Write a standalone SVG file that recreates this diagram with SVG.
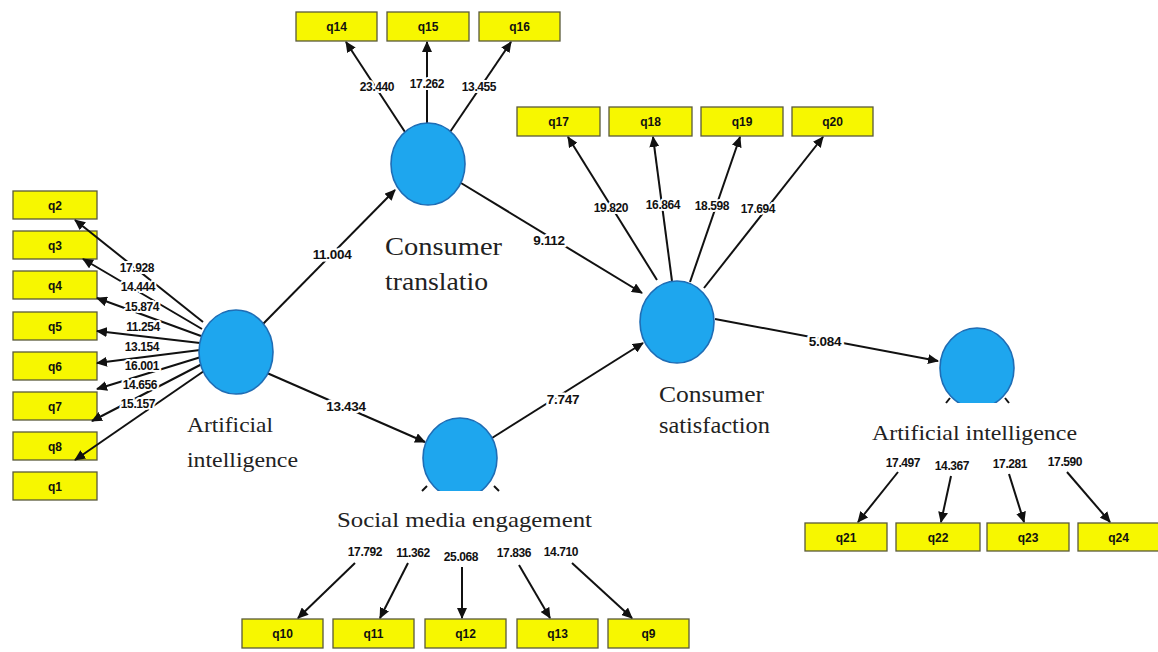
<svg xmlns="http://www.w3.org/2000/svg" width="1158" height="652" viewBox="0 0 1158 652">
<style>
.bg{fill:#ffffff}
.box{fill:#f7f700;stroke:#5a5a3a;stroke-width:1.3}
.bt{font-family:"Liberation Sans",Arial,sans-serif;font-weight:bold;font-size:12px;fill:#111;text-anchor:middle}
.lv{fill:#1ea6ee;stroke:#1f6db5;stroke-width:1.6}
.ln{stroke:#111;stroke-width:2;fill:none}
.arr{marker-end:url(#ah)}
.el{font-family:"Liberation Sans",Arial,sans-serif;font-weight:bold;font-size:12px;fill:#111;text-anchor:middle;letter-spacing:-0.4px;paint-order:stroke;stroke:#fff;stroke-width:4px;stroke-linejoin:round}
.pl{font-family:"Liberation Sans",Arial,sans-serif;font-weight:bold;font-size:13.5px;fill:#111;text-anchor:middle;letter-spacing:-0.3px;paint-order:stroke;stroke:#fff;stroke-width:5px;stroke-linejoin:round}
.nl{font-family:"Liberation Serif","Times New Roman",serif;fill:#222}
</style>
<defs>
<marker id="ah" markerUnits="userSpaceOnUse" markerWidth="11" markerHeight="10" refX="10" refY="5" orient="auto">
<path d="M0,0 L11,5 L0,10 z" fill="#111"/>
</marker>
<clipPath id="clipSM"><rect x="400" y="400" width="120" height="91"/></clipPath>
<clipPath id="clipAI2"><rect x="920" y="310" width="120" height="93"/></clipPath>
</defs>
<rect class="bg" x="0" y="0" width="1158" height="652"/>

<g id="q14"><rect class="box" x="296" y="12" width="81" height="29"/><text class="bt" x="336.5" y="31">q14</text></g>
<g id="q15"><rect class="box" x="387" y="12" width="82" height="29"/><text class="bt" x="428" y="31">q15</text></g>
<g id="q16"><rect class="box" x="479" y="12" width="81" height="29"/><text class="bt" x="519.5" y="31">q16</text></g>

<g id="q17"><rect class="box" x="517" y="107" width="83" height="29"/><text class="bt" x="558.5" y="126">q17</text></g>
<g id="q18"><rect class="box" x="609" y="107" width="83" height="29"/><text class="bt" x="650.5" y="126">q18</text></g>
<g id="q19"><rect class="box" x="701" y="107" width="82" height="29"/><text class="bt" x="742" y="126">q19</text></g>
<g id="q20"><rect class="box" x="792" y="107" width="81" height="29"/><text class="bt" x="832.5" y="126">q20</text></g>

<g id="q2"><rect class="box" x="13" y="191" width="84" height="28"/><text class="bt" x="55" y="209.5">q2</text></g>
<g id="q3"><rect class="box" x="13" y="231" width="84" height="28"/><text class="bt" x="55" y="249.5">q3</text></g>
<g id="q4"><rect class="box" x="13" y="271" width="84" height="28"/><text class="bt" x="55" y="289.5">q4</text></g>
<g id="q5"><rect class="box" x="13" y="312" width="84" height="28"/><text class="bt" x="55" y="330.5">q5</text></g>
<g id="q6"><rect class="box" x="13" y="352" width="84" height="28"/><text class="bt" x="55" y="370.5">q6</text></g>
<g id="q7"><rect class="box" x="13" y="392" width="84" height="28"/><text class="bt" x="55" y="410.5">q7</text></g>
<g id="q8"><rect class="box" x="13" y="432" width="84" height="28"/><text class="bt" x="55" y="450.5">q8</text></g>
<g id="q1"><rect class="box" x="13" y="472" width="84" height="28"/><text class="bt" x="55" y="490.5">q1</text></g>

<g id="q10"><rect class="box" x="242" y="619" width="81" height="29"/><text class="bt" x="282.5" y="638">q10</text></g>
<g id="q11"><rect class="box" x="333" y="619" width="81" height="29"/><text class="bt" x="373.5" y="638">q11</text></g>
<g id="q12"><rect class="box" x="425" y="619" width="81" height="29"/><text class="bt" x="465.5" y="638">q12</text></g>
<g id="q13"><rect class="box" x="517" y="619" width="81" height="29"/><text class="bt" x="557.5" y="638">q13</text></g>
<g id="q9"><rect class="box" x="608" y="619" width="81" height="29"/><text class="bt" x="648.5" y="638">q9</text></g>

<g id="q21"><rect class="box" x="805" y="523" width="82" height="28"/><text class="bt" x="846" y="541.5">q21</text></g>
<g id="q22"><rect class="box" x="896" y="523" width="84" height="28"/><text class="bt" x="938" y="541.5">q22</text></g>
<g id="q23"><rect class="box" x="987" y="523" width="82" height="28"/><text class="bt" x="1028" y="541.5">q23</text></g>
<g id="q24"><rect class="box" x="1078" y="523" width="81" height="28"/><text class="bt" x="1118.5" y="541.5">q24</text></g>

<g id="connectors">
<!-- structural paths -->
<line class="ln arr" x1="262" y1="325" x2="395" y2="190"/>
<line class="ln arr" x1="267" y1="373" x2="425" y2="442"/>
<line class="ln arr" x1="461" y1="183" x2="642" y2="293"/>
<line class="ln arr" x1="492" y1="438" x2="643" y2="343"/>
<line class="ln arr" x1="715" y1="319" x2="938" y2="361"/>
<!-- consumer translation loadings -->
<line class="ln arr" x1="405" y1="132" x2="346" y2="42"/>
<line class="ln arr" x1="427" y1="124" x2="427" y2="42"/>
<line class="ln arr" x1="450" y1="132" x2="511" y2="42"/>
<!-- consumer satisfaction loadings -->
<line class="ln arr" x1="657" y1="280" x2="568" y2="137"/>
<line class="ln arr" x1="672" y1="281" x2="653" y2="137"/>
<line class="ln arr" x1="690" y1="282" x2="740" y2="137"/>
<line class="ln arr" x1="704" y1="288" x2="823" y2="137"/>
<!-- artificial intelligence loadings -->
<line class="ln arr" x1="203" y1="322" x2="75" y2="220"/>
<line class="ln arr" x1="202" y1="329" x2="83" y2="259"/>
<line class="ln arr" x1="201" y1="336" x2="97" y2="298"/>
<line class="ln arr" x1="200" y1="343" x2="97" y2="331"/>
<line class="ln arr" x1="200" y1="350" x2="97" y2="363"/>
<line class="ln arr" x1="201" y1="357" x2="97" y2="389"/>
<line class="ln arr" x1="202" y1="364" x2="92" y2="421"/>
<line class="ln arr" x1="204" y1="371" x2="75" y2="460"/>
<!-- social media engagement loadings -->
<line class="ln" x1="427" y1="486" x2="422" y2="491"/>
<line class="ln" x1="494" y1="486" x2="499" y2="491"/>
<line class="ln arr" x1="355" y1="563" x2="298" y2="618"/>
<line class="ln arr" x1="408" y1="563" x2="380" y2="618"/>
<line class="ln arr" x1="462" y1="567" x2="462" y2="618"/>
<line class="ln arr" x1="519" y1="565" x2="550" y2="618"/>
<line class="ln arr" x1="572" y1="563" x2="632" y2="618"/>
<!-- artificial intelligence (right) loadings -->
<line class="ln" x1="950" y1="398" x2="946" y2="403"/>
<line class="ln" x1="1005" y1="398" x2="1009" y2="403"/>
<line class="ln arr" x1="898" y1="472" x2="858" y2="522"/>
<line class="ln arr" x1="951" y1="476" x2="941" y2="522"/>
<line class="ln arr" x1="1009" y1="474" x2="1024" y2="522"/>
<line class="ln arr" x1="1067" y1="472" x2="1110" y2="522"/>

<!-- path coefficient labels -->
<text class="pl" x="332" y="259">11.004</text>
<text class="pl" x="346" y="411">13.434</text>
<text class="pl" x="549" y="245">9.112</text>
<text class="pl" x="563" y="404">7.747</text>
<text class="pl" x="825" y="346">5.084</text>
<!-- loading labels -->
<text class="el" x="377" y="91">23.440</text>
<text class="el" x="427" y="88">17.262</text>
<text class="el" x="479" y="91">13.455</text>
<text class="el" x="611" y="212">19.820</text>
<text class="el" x="663" y="209">16.864</text>
<text class="el" x="712" y="210">18.598</text>
<text class="el" x="758" y="213">17.694</text>
<text class="el" x="137" y="272">17.928</text>
<text class="el" x="138" y="291">14.444</text>
<text class="el" x="142" y="311">15.874</text>
<text class="el" x="143" y="331">11.254</text>
<text class="el" x="142" y="351">13.154</text>
<text class="el" x="142" y="370">16.001</text>
<text class="el" x="140" y="389">14.656</text>
<text class="el" x="138" y="408">15.157</text>
<text class="el" x="365" y="556">17.792</text>
<text class="el" x="413" y="557">11.362</text>
<text class="el" x="461" y="561">25.068</text>
<text class="el" x="514" y="557">17.836</text>
<text class="el" x="561" y="556">14.710</text>
<text class="el" x="903" y="467">17.497</text>
<text class="el" x="952" y="470">14.367</text>
<text class="el" x="1010" y="468">17.281</text>
<text class="el" x="1065" y="466">17.590</text>
</g>

<g id="ai-left">
<ellipse class="lv" cx="236" cy="352" rx="37" ry="42"/>
<text class="nl" font-size="22" x="187" y="432" textLength="86" lengthAdjust="spacingAndGlyphs">Artificial</text>
<text class="nl" font-size="22" x="187" y="467" textLength="111" lengthAdjust="spacingAndGlyphs">intelligence</text>
</g>
<g id="consumer-translation">
<ellipse class="lv" cx="428" cy="164" rx="37" ry="41"/>
<text class="nl" font-size="25" x="385" y="255" textLength="117" lengthAdjust="spacingAndGlyphs">Consumer</text>
<text class="nl" font-size="25" x="385" y="290" textLength="103" lengthAdjust="spacingAndGlyphs">translatio</text>
</g>
<g id="consumer-satisfaction">
<ellipse class="lv" cx="677" cy="322" rx="37" ry="41"/>
<text class="nl" font-size="23" x="659" y="402" textLength="105" lengthAdjust="spacingAndGlyphs">Consumer</text>
<text class="nl" font-size="23" x="659" y="433" textLength="111" lengthAdjust="spacingAndGlyphs">satisfaction</text>
</g>
<g id="social-media-engagement">
<ellipse class="lv" cx="460" cy="458" rx="37" ry="40" clip-path="url(#clipSM)"/>
<text class="nl" font-size="21" x="337" y="527" textLength="255" lengthAdjust="spacingAndGlyphs">Social media engagement</text>
</g>
<g id="ai-right">
<ellipse class="lv" cx="977" cy="368" rx="37" ry="40" clip-path="url(#clipAI2)"/>
<text class="nl" font-size="21" x="872" y="440" textLength="205" lengthAdjust="spacingAndGlyphs">Artificial intelligence</text>
</g>
</svg>
